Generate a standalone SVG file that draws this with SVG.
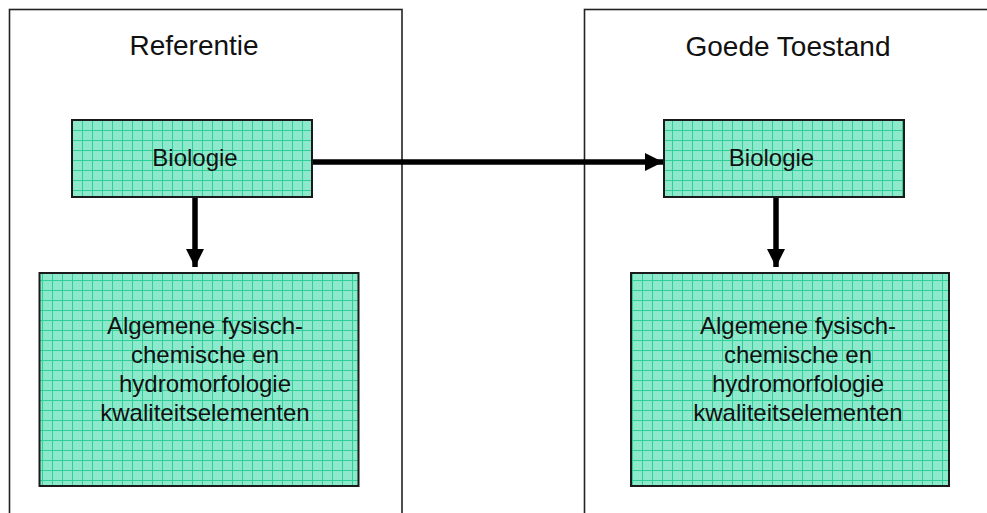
<svg xmlns="http://www.w3.org/2000/svg" width="987" height="513" viewBox="0 0 987 513">
<defs>
<pattern id="grid" patternUnits="userSpaceOnUse" width="10" height="10" x="2" y="0">
<rect width="10" height="10" fill="#8ee8cc"/>
<path d="M0 0.5H10M0.5 0V10" stroke="#2fcf98" stroke-width="1"/>
</pattern>
<marker id="ah" markerUnits="userSpaceOnUse" viewBox="0 0 18 18" refX="18" refY="9" markerWidth="18" markerHeight="18" orient="auto">
<path d="M0 0L18 9L0 18Z" fill="#000"/>
</marker>
<style>
.frame{fill:none;stroke:#222;stroke-width:1.6}
.box{fill:url(#grid);stroke:#1a1a1a;stroke-width:2}
.t{font-family:"Liberation Sans",Arial,sans-serif;fill:#111;text-anchor:middle}
.title{font-size:28px}
.lbl{font-size:24px}
.conn{stroke:#000;stroke-width:5.5;fill:none;marker-end:url(#ah)}
</style>
</defs>
<rect width="987" height="513" fill="#fff"/>
<g id="frame-referentie">
<rect class="frame" x="9.5" y="9.5" width="392.5" height="520"/>
<text class="t title" x="194" y="55">Referentie</text>
</g>
<g id="frame-goede-toestand">
<rect class="frame" x="584.5" y="9.5" width="420" height="520"/>
<text class="t title" x="788" y="56">Goede Toestand</text>
</g>
<g id="biologie-ref">
<rect class="box" x="72" y="120" width="240" height="77"/>
<text class="t lbl" x="195" y="166">Biologie</text>
</g>
<g id="elementen-ref">
<rect class="box" x="39.5" y="273" width="319" height="213"/>
<text class="t lbl" x="205" y="334">Algemene fysisch-</text>
<text class="t lbl" x="205" y="363">chemische en</text>
<text class="t lbl" x="205" y="392">hydromorfologie</text>
<text class="t lbl" x="205" y="421">kwaliteitselementen</text>
</g>
<g id="biologie-goed">
<rect class="box" x="664" y="120" width="240" height="77"/>
<text class="t lbl" x="771.5" y="166">Biologie</text>
</g>
<g id="elementen-goed">
<rect class="box" x="631" y="273" width="318" height="213"/>
<text class="t lbl" x="798" y="334">Algemene fysisch-</text>
<text class="t lbl" x="798" y="363">chemische en</text>
<text class="t lbl" x="798" y="392">hydromorfologie</text>
<text class="t lbl" x="798" y="421">kwaliteitselementen</text>
</g>
<g id="connectors">
<line class="conn" x1="313" y1="162" x2="663" y2="162"/>
<line class="conn" x1="195" y1="198" x2="195" y2="267"/>
<line class="conn" x1="776" y1="198" x2="776" y2="267"/>
</g>
</svg>
